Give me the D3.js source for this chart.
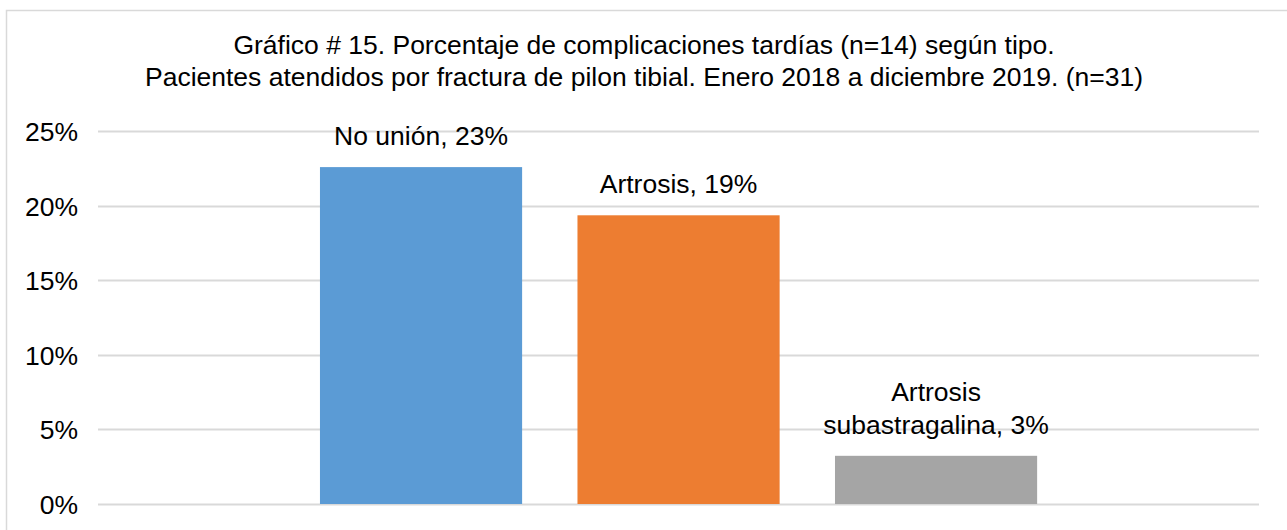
<!DOCTYPE html>
<html>
<head>
<meta charset="utf-8">
<script src="https://cdn.jsdelivr.net/npm/d3@7"></script>
<style>
  body { margin: 0; background: #fff; }
  svg { display: block; font-family: "Liberation Sans", Arial, sans-serif; }
</style>
</head>
<body>
<div id="chart"></div>
<script>
// Chart data
const categories = ['No unión', 'Artrosis', 'Artrosis subastragalina'];
const values = [22.58, 19.35, 3.23];
const valueLabels = [['No unión, 23%'], ['Artrosis, 19%'], ['Artrosis', 'subastragalina, 3%']];
const colors = ['#5B9BD5', '#ED7D31', '#A5A5A5'];
const yTicks = [0, 5, 10, 15, 20, 25];
const titleLines = [
    'Gráfico # 15. Porcentaje de complicaciones tardías (n=14) según tipo.',
    'Pacientes atendidos por fractura de pilon tibial. Enero 2018 a diciembre 2019. (n=31)'
];

const width = 1287;
const height = 530;
const fontSize = '26.5px';

const svg = d3.select('#chart')
    .append('svg')
    .attr('width', width)
    .attr('height', height);

// Outer chart border
svg.append('rect')
    .attr('x', 6.5)
    .attr('y', 10.5)
    .attr('width', 1300)
    .attr('height', 540)
    .style('fill', '#fff')
    .style('stroke', '#d9d9d9')
    .style('stroke-width', 1.5);

// Title
svg.append('g').selectAll('text')
    .data(titleLines)
    .join('text')
    .attr('x', 644)
    .attr('y', (d, i) => 54 + i * 32)
    .attr('text-anchor', 'middle')
    .style('font-size', fontSize)
    .style('fill', '#000')
    .text(d => d);

const plotLeft = 98;
const plotRight = 1259;

const y = d3.scaleLinear()
    .domain([0, 25])
    .range([504, 131]);

const x = d3.scaleBand()
    .domain(categories)
    .range([264.6, 1092.5])
    .paddingInner(0.215)
    .paddingOuter(0.215);

// Gridlines
svg.append('g').selectAll('line')
    .data(yTicks)
    .join('line')
    .attr('x1', plotLeft)
    .attr('x2', plotRight)
    .attr('y1', d => Math.round(y(d)) + 0.5)
    .attr('y2', d => Math.round(y(d)) + 0.5)
    .style('stroke', '#d9d9d9')
    .style('stroke-width', 2);

// Y axis labels
const yAxis = svg.append('g')
    .attr('transform', `translate(${plotLeft - 20},0)`)
    .call(d3.axisLeft(y).tickValues(yTicks).tickFormat(d => d + '%').tickSize(0).tickPadding(0));
yAxis.select('.domain').remove();
yAxis.selectAll('text')
    .style('font-family', '"Liberation Sans", Arial, sans-serif')
    .style('font-size', fontSize)
    .style('fill', '#000')
    .attr('dy', '0.36em');

// Bars
svg.append('g').selectAll('rect')
    .data(categories)
    .join('rect')
    .attr('x', d => x(d))
    .attr('y', (d, i) => y(values[i]))
    .attr('width', x.bandwidth())
    .attr('height', (d, i) => y(0) - y(values[i]))
    .style('fill', (d, i) => colors[i]);

// Value labels above bars
const labelGroups = svg.append('g').selectAll('text')
    .data(categories)
    .join('text')
    .attr('text-anchor', 'middle')
    .style('font-size', fontSize)
    .style('fill', '#000');

labelGroups.each(function(d, i) {
    const lines = valueLabels[i];
    const cx = x(d) + x.bandwidth() / 2;
    const lastBaseline = y(values[i]) - 22;
    d3.select(this).selectAll('tspan')
        .data(lines)
        .join('tspan')
        .attr('x', cx)
        .attr('y', (t, j) => lastBaseline - (lines.length - 1 - j) * 33)
        .text(t => t);
});
</script>
</body>
</html>
